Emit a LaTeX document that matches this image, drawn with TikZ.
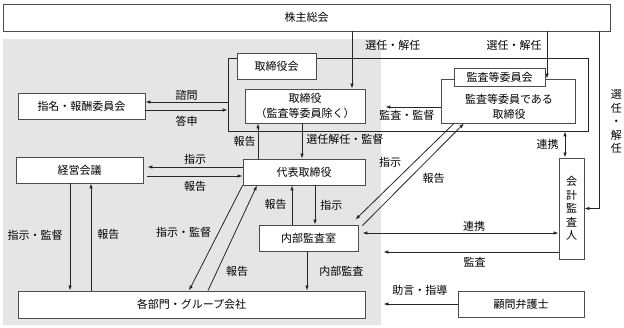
\documentclass[tikz,border=0pt]{standalone}
\usepackage{fontspec}
\setmainfont{Noto Sans CJK JP}
\usetikzlibrary{arrows.meta}

\begin{document}
\begin{tikzpicture}[
  x=1pt,y=-1pt,
  font=\fontsize{11}{15}\selectfont,
  box/.style={draw=black!70,fill=white,line width=0.8pt,inner sep=0pt,align=center,text=black},
  arr/.style={draw=black!85,line width=0.8pt,-{Latex[length=5pt,width=3.5pt]}},
  dbl/.style={arr,{Latex[length=5pt,width=3.5pt]}-{Latex[length=5pt,width=3.5pt]}},
  lbl/.style={inner sep=1pt,text=black},
  vert/.style={align=center,font=\fontsize{11}{13.5}\selectfont}
]
  \useasboundingbox (0,0) rectangle (624,328);
  \fill[gray!20] (3,39) rectangle (381,325);

  % boxes
  \node[box,minimum width=607pt,minimum height=27pt] (gm) at (306.5,17.5) {株主総会};
  \node[draw=black!85,line width=0.8pt,minimum width=360pt,minimum height=73pt] (bod) at (408,94.5) {};
  \node[box,minimum width=79pt,minimum height=26pt] (bodlbl) at (276.5,66) {取締役会};
  \node[box,minimum width=120pt,minimum height=34pt] (tb) at (305,106) {取締役\\（監査等委員除く）};
  \node[box,minimum width=134pt,minimum height=44pt] (acm) at (508,101) {};
  \node[box,minimum width=91pt,minimum height=18pt] (acmlbl) at (499.5,77) {監査等委員会};
  \node[lbl,align=center] (acmtxt) at (509,106.5) {監査等委員である\\取締役};
  \node[box,minimum width=127pt,minimum height=26pt] (nom) at (81.5,106) {指名・報酬委員会};
  \node[box,minimum width=127pt,minimum height=26pt] (mgmt) at (79.5,170) {経営会議};
  \node[box,minimum width=122pt,minimum height=26pt] (rep) at (304,172) {代表取締役};
  \node[box,minimum width=99pt,minimum height=26pt] (ia) at (308.5,238) {内部監査室};
  \node[box,minimum width=347pt,minimum height=27pt] (div) at (191.5,304.5) {各部門・グループ会社};
  \node[box,vert,minimum width=25pt,minimum height=101pt] (aud) at (571.5,208.5) {会\\計\\監\\査\\人};
  \node[box,minimum width=126pt,minimum height=26pt] (adv) at (521,304) {顧問弁護士};

  % shareholders
  \draw[arr] ([xshift=47pt]tb.north |- gm.south) -- node[lbl,pos=.24,right=12pt] {選任・解任} ([xshift=47pt]tb.north);
  \draw[arr] ([xshift=39pt]acm.north |- gm.south) -- node[lbl,pos=.29,left=4pt] {選任・解任} ([xshift=39pt]acm.north);
  \draw[arr] ([xshift=-11pt]gm.south east) |- node[lbl,vert,pos=.255,right=10pt] {選\\任\\・\\解\\任} (aud.east);

  % board
  \draw[arr] ([yshift=4pt]nom.east -| bod.west) -- node[lbl,above] {諮問} ([yshift=4pt]nom.east);
  \draw[arr] ([yshift=-4pt]nom.east) -- node[lbl,below=5pt] {答申} ([yshift=-4pt]nom.east -| bod.west);
  \draw[arr,shorten >=20pt] ([yshift=-6pt]acm.west) -- node[lbl,pos=.45,below=2pt] {監査・監督} ([yshift=-6pt]acm.west -| tb.east);
  \draw[arr] ([xshift=-46pt]rep.north) -- node[lbl,left=1pt] {報告} ([xshift=-46pt]rep.north |- tb.south);
  \draw[arr] ([xshift=-2pt]rep.north |- tb.south) -- node[lbl,pos=.45,right=3pt] {選任解任・監督} ([xshift=-2pt]rep.north);

  % representative director
  \draw[arr] ([yshift=5pt]rep.west) -- node[lbl,above=1pt] {指示} ([shift={(4pt,5pt)}]rep.west -| mgmt.east);
  \draw[arr] ([shift={(4pt,-4pt)}]rep.west -| mgmt.east) -- node[lbl,below=4pt] {報告} ([yshift=-4pt]rep.west);
  \draw[arr] (rep.south west) -- node[lbl,pos=.45,left=6pt] {指示・監督} ([xshift=-2.5pt]div.north);
  \draw[arr] ([xshift=16.5pt]div.north) -- node[lbl,pos=.18,right=8pt] {報告} ([xshift=-47pt]rep.south);
  \draw[arr] ([xshift=-9.5pt]mgmt.south) -- node[lbl,pos=.48,left=6pt] {指示・監督} ([xshift=-9.5pt]mgmt.south |- div.north);
  \draw[arr] ([xshift=11.5pt]mgmt.south |- div.north) -- node[lbl,pos=.52,right=5pt] {報告} ([xshift=11.5pt]mgmt.south);
  \draw[arr] ([xshift=-16.5pt]ia.north) -- node[lbl,pos=.52,left=4pt] {報告} ([xshift=-16.5pt]ia.north |- rep.south);
  \draw[arr] ([xshift=6.5pt]ia.north |- rep.south) -- node[lbl,right=4pt] {指示} ([xshift=6.5pt]ia.north);
  \draw[arr] ([xshift=-1.5pt]ia.south) -- node[lbl,pos=.52,right=11pt] {内部監査} ([xshift=-1.5pt]ia.south |- div.north);

  % audit committee and auditors
  \draw[arr] ([xshift=-54pt]acm.south) -- node[lbl,pos=.4,left=12pt] {指示} ([shift={(-3pt,5pt)}]ia.north east);
  \draw[arr] ([shift={(4pt,-1pt)}]ia.north east) -- node[lbl,pos=.46,right=12pt] {報告} ([xshift=-44pt]acm.south);
  \draw[dbl] ([xshift=-6.5pt]aud.north |- bod.south) -- node[lbl,left=5pt] {連携} ([xshift=-6.5pt]aud.north);
  \draw[dbl] ([shift={(4pt,5pt)}]ia.east) -- node[lbl,pos=.57,above] {連携} ([yshift=5pt]ia.east -| aud.west);
  \draw[arr,shorten >=25pt] ([yshift=-43.5pt]aud.west) -- node[lbl,pos=.42,below=4pt] {監査} ([yshift=-43.5pt]aud.west -| ia.east);
  \draw[arr,shorten >=18pt] (adv.west) -- node[lbl,pos=.41,above=7pt] {助言・指導} (adv.west -| div.east);
\end{tikzpicture}
\end{document}
